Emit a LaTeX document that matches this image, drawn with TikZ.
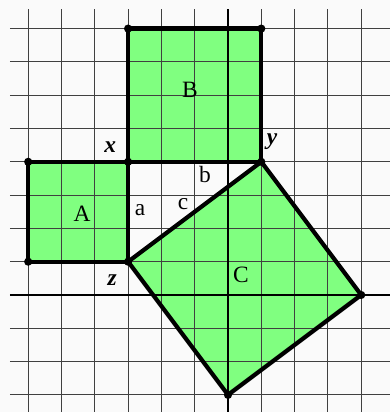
\documentclass[tikz,border=0pt]{standalone}
\usepackage{fontspec}
\setmainfont{Liberation Serif}
\begin{document}
\begin{tikzpicture}[
  gridline/.style={black!75, line width=0.8pt},
  axisline/.style={black, line width=2.4pt},
  sq/.style={fill=green!50!white, fill=sqgreen, draw=none},
  edge/.style={black, line width=3.6pt, line join=round},
  dot/.style={circle, fill=black, inner sep=0pt, minimum size=7pt},
  lbl/.style={font=\fontsize{20}{22}\selectfont},
  vlbl/.style={font=\fontsize{20}{22}\selectfont\bfseries\itshape}
]
\definecolor{sqgreen}{HTML}{80FF80}
\useasboundingbox[fill=white!98!black] (-6.847,-3.514) rectangle (4.865,8.859);
% coordinates
\coordinate (pA1) at (-6,1);
\coordinate (pA2) at (-6,4);
\coordinate (px) at (-3,4);
\coordinate (pz) at (-3,1);
\coordinate (pB1) at (-3,8);
\coordinate (pB2) at (1,8);
\coordinate (py) at (1,4);
\coordinate (pC1) at (4,0);
\coordinate (pC2) at (0,-3);
% fills
\fill[sqgreen] (pA1) -- (pA2) -- (px) -- (pz) -- cycle;
\fill[sqgreen] (px) -- (pB1) -- (pB2) -- (py) -- cycle;
\fill[sqgreen] (pz) -- (py) -- (pC1) -- (pC2) -- cycle;
% grid
\foreach \i in {-6,...,4} \draw[gridline] (\i,-3.6) -- (\i,8.6);
\foreach \j in {-3,...,8} \draw[gridline] (-6.55,\j) -- (4.95,\j);
% axes
\draw[axisline] (-6.55,0) -- (4.95,0);
\draw[axisline] (0,-3.6) -- (0,8.6);
% outlines
\draw[edge] (pA1) -- (pA2) -- (px) -- (pz) -- cycle;
\draw[edge] (px) -- (pB1) -- (pB2) -- (py) -- cycle;
\draw[edge] (pz) -- (py) -- (pC1) -- (pC2) -- cycle;
% dots
\foreach \p in {pA1,pA2,px,pz,pB1,pB2,py,pC1,pC2} \node[dot] at (\p) {};
% labels
\node[lbl] (lA) at (-4.38,2.43) {A};
\node[lbl] (lB) at (-1.14,6.16) {B};
\node[lbl] (lC) at (0.39,0.6) {C};
\node[lbl] (la) at (-2.64,2.55) {a};
\node[lbl] (lb) at (-0.69,3.62) {b};
\node[lbl] (lc) at (-1.35,2.72) {c};
\node[vlbl] (lx) at (-3.54,4.44) {x};
\node[vlbl] (ly) at (1.32,4.6) {y};
\node[vlbl] (lz) at (-3.48,0.45) {z};
\end{tikzpicture}
\end{document}
